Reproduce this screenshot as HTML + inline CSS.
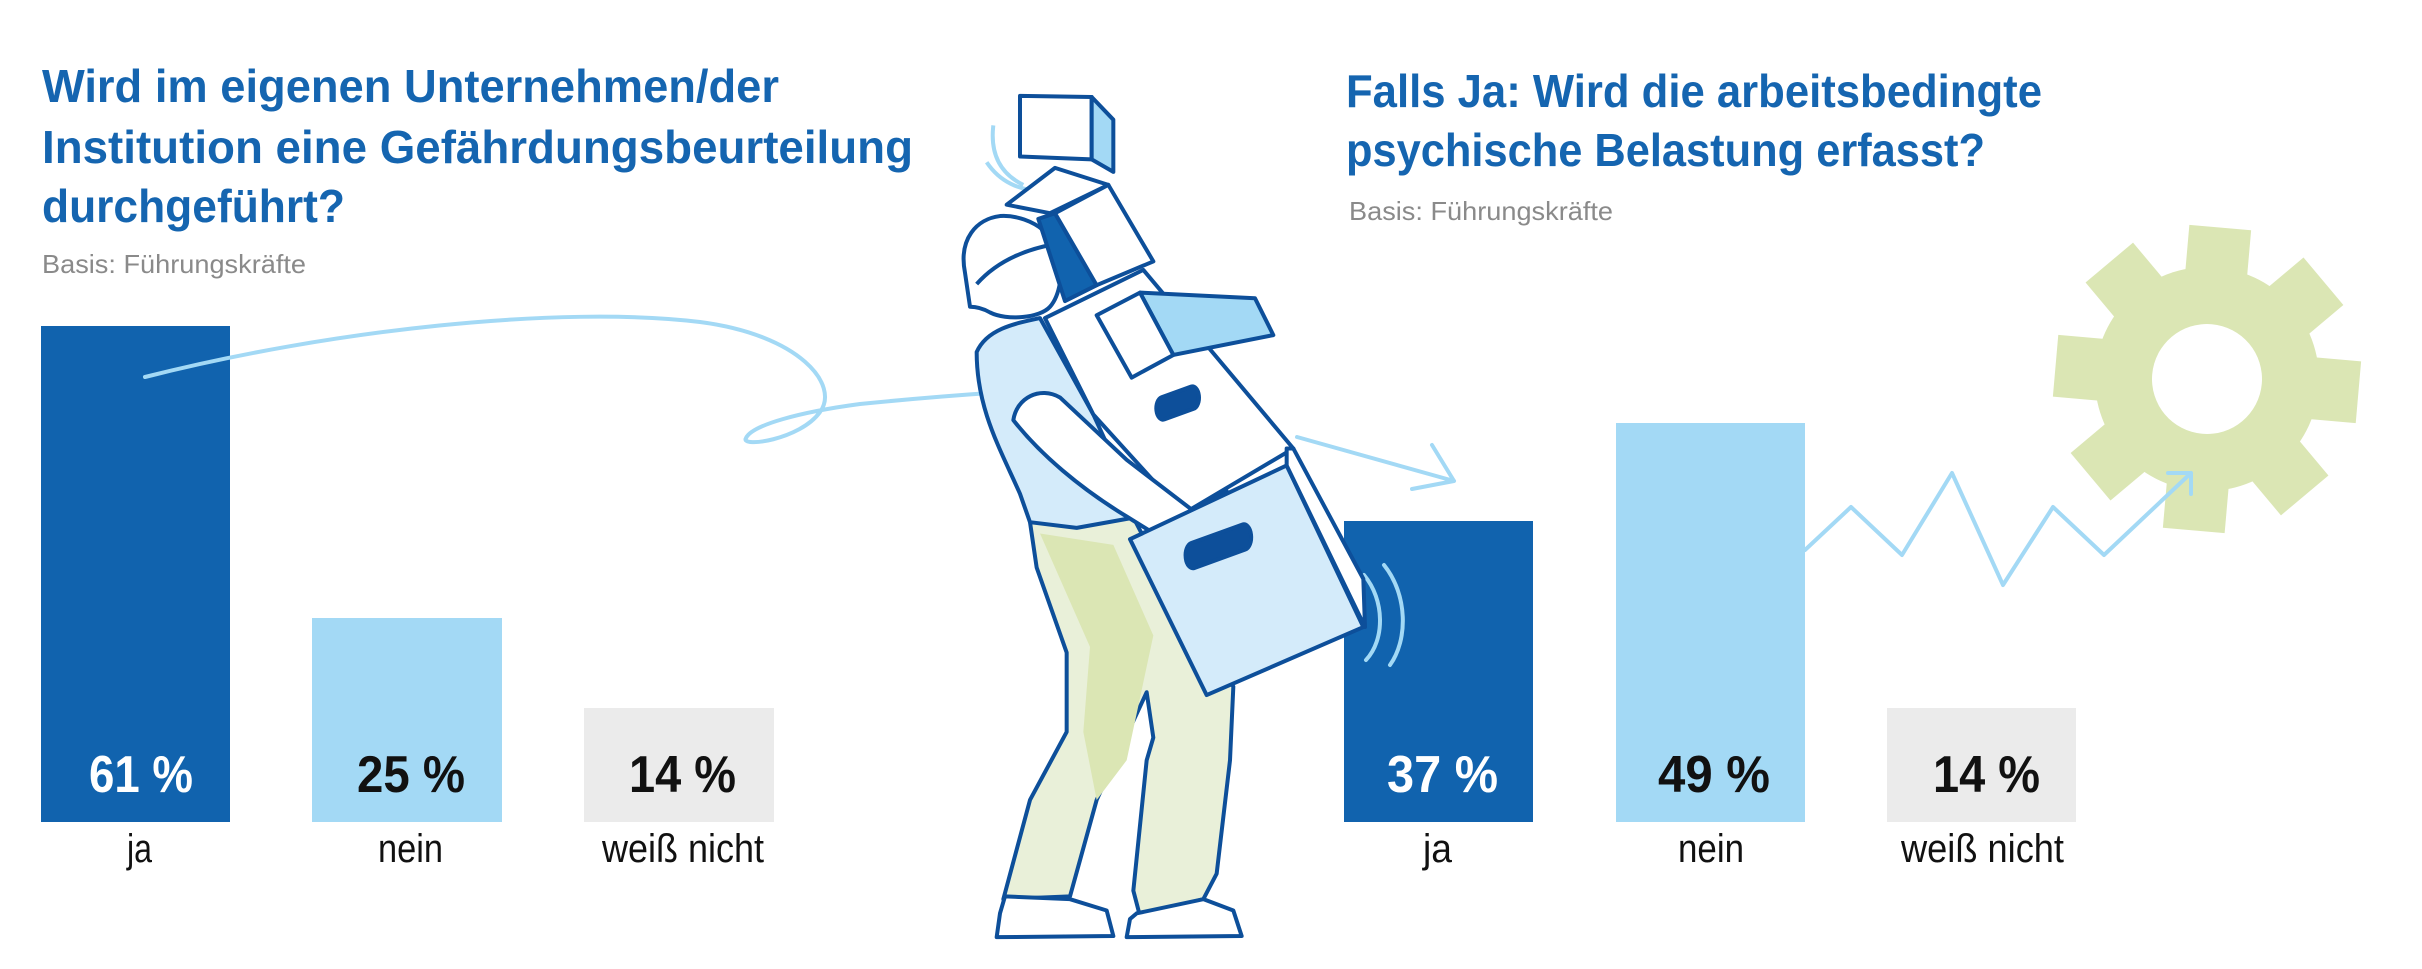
<!DOCTYPE html>
<html><head><meta charset="utf-8"><style>
html,body{margin:0;padding:0;background:#fff;}
svg{display:block;}
.t{font-family:"Liberation Sans",sans-serif;font-weight:bold;fill:#1565b0;font-size:46px;}
.b{font-family:"Liberation Sans",sans-serif;fill:#8a8a8a;font-size:26px;}
.p{font-family:"Liberation Sans",sans-serif;font-weight:bold;font-size:52px;}
.l{font-family:"Liberation Sans",sans-serif;font-size:40px;fill:#111;}
</style></head><body>
<svg width="2422" height="969" viewBox="0 0 2422 969" xmlns="http://www.w3.org/2000/svg">
<!-- titles -->
<text class="t" x="42" y="102" textLength="737" lengthAdjust="spacingAndGlyphs">Wird im eigenen Unternehmen/der</text>
<text class="t" x="42" y="163" textLength="871" lengthAdjust="spacingAndGlyphs">Institution eine Gefährdungsbeurteilung</text>
<text class="t" x="42" y="222" textLength="303" lengthAdjust="spacingAndGlyphs">durchgeführt?</text>
<text class="b" x="42" y="273" textLength="264" lengthAdjust="spacingAndGlyphs">Basis: Führungskräfte</text>
<text class="t" x="1346" y="107" textLength="696" lengthAdjust="spacingAndGlyphs">Falls Ja: Wird die arbeitsbedingte</text>
<text class="t" x="1346" y="166" textLength="639" lengthAdjust="spacingAndGlyphs">psychische Belastung erfasst?</text>
<text class="b" x="1349" y="220" textLength="264" lengthAdjust="spacingAndGlyphs">Basis: Führungskräfte</text>

<!-- gear -->
<g transform="translate(2207,379) rotate(5)" fill="#dbe6b4">
<circle r="112"/>
<g><rect x="-31" y="-152" width="62" height="60"/></g>
<g transform="rotate(45)"><rect x="-31" y="-152" width="62" height="60"/></g>
<g transform="rotate(90)"><rect x="-31" y="-152" width="62" height="60"/></g>
<g transform="rotate(135)"><rect x="-31" y="-152" width="62" height="60"/></g>
<g transform="rotate(180)"><rect x="-31" y="-152" width="62" height="60"/></g>
<g transform="rotate(225)"><rect x="-31" y="-152" width="62" height="60"/></g>
<g transform="rotate(270)"><rect x="-31" y="-152" width="62" height="60"/></g>
<g transform="rotate(315)"><rect x="-31" y="-152" width="62" height="60"/></g>
<circle r="55" fill="#fff"/>
</g>

<!-- bars left -->
<rect x="41" y="326" width="189" height="496" fill="#1163ae"/>
<rect x="312" y="618" width="190" height="204" fill="#a3d9f5"/>
<rect x="584" y="708" width="190" height="114" fill="#ebebeb"/>
<!-- bars right -->
<rect x="1344" y="521" width="189" height="301" fill="#1163ae"/>
<rect x="1616" y="423" width="189" height="399" fill="#a3d9f5"/>
<rect x="1887" y="708" width="189" height="114" fill="#ebebeb"/>

<!-- lines -->
<g fill="none" stroke="#a3d9f5" stroke-width="4" stroke-linecap="round" stroke-linejoin="round">
<path d="M145,377 C330,330 560,305 700,322 C800,335 840,385 820,412 C800,440 740,448 746,438 C752,425 800,412 860,404 C920,398 960,395 990,393"/>
<path d="M1297,437 L1454,481 M1432,445 L1454,481 L1412,489"/>
<path d="M1805,550 L1851,507 L1902,555 L1952,473 L2003,585 L2053,507 L2104,555 L2191,473 M2168,473 L2191,473 L2191,494"/>
<path d="M1364,575 C1385,600 1385,640 1366,660 M1384,565 C1408,595 1408,640 1390,665"/>
</g>

<!-- figure -->
<g transform="translate(940,80) scale(0.33333,0.5669)" stroke="#0d4f9a" stroke-width="4" stroke-linejoin="round" vector-effect="non-scaling-stroke">
<g stroke-width="4">
<path vector-effect="non-scaling-stroke" fill="none" stroke="#a3d9f5" d="M160,80 C150,130 180,165 250,185 M140,145 C180,180 240,195 300,195"/>
<polygon vector-effect="non-scaling-stroke" fill="#fff" points="240,28 455,30 455,140 240,135"/>
<polygon vector-effect="non-scaling-stroke" fill="#a3d9f5" points="455,30 520,70 520,162 455,140"/>
<!-- pants -->
<polygon vector-effect="non-scaling-stroke" fill="#e9f0d9" points="270,780 570,760 640,840 880,1070 870,1200 830,1400 790,1445 600,1475 580,1430 620,1200 640,1160 620,1080 470,1270 390,1440 190,1445 270,1270 380,1150 380,1010 290,860"/>
<polygon vector-effect="non-scaling-stroke" fill="#dbe6b4" stroke="none" points="300,800 520,820 640,980 560,1200 470,1270 430,1150 450,1000"/>
<!-- shoes -->
<polygon vector-effect="non-scaling-stroke" fill="#fff" points="195,1440 390,1445 500,1465 520,1510 170,1512 180,1470"/>
<polygon vector-effect="non-scaling-stroke" fill="#fff" points="590,1470 790,1445 880,1465 905,1510 560,1512 570,1480"/>
<!-- shirt -->
<path vector-effect="non-scaling-stroke" fill="#d4ebfa" d="M110,480 C140,440 220,430 300,420 L460,590 L600,770 L410,790 L270,780 L240,730 C180,650 110,580 110,480 Z"/>
<!-- head -->
<path vector-effect="non-scaling-stroke" fill="#fff" d="M75,340 C55,280 110,245 180,240 C230,238 280,250 310,265 L360,300 C370,340 360,380 330,400 C300,420 200,425 150,410 C120,400 95,400 90,400 Z"/>
<path vector-effect="non-scaling-stroke" fill="#fff" d="M110,360 C170,320 250,300 340,290"/>
<!-- boxes stack -->
<polygon vector-effect="non-scaling-stroke" fill="#fff" points="200,220 345,155 505,185 330,235"/>
<polygon vector-effect="non-scaling-stroke" fill="#1163ae" points="295,245 345,235 470,362 375,390"/>
<polygon vector-effect="non-scaling-stroke" fill="#fff" points="345,235 505,185 640,320 470,362"/>
<polygon vector-effect="non-scaling-stroke" fill="#fff" points="315,420 610,335 1060,650 730,765 460,590"/>
<rect vector-effect="non-scaling-stroke" x="648" y="550" width="130" height="40" rx="20" fill="#0d4f9a" transform="rotate(-12 712 570)"/>
<polygon vector-effect="non-scaling-stroke" fill="#a3d9f5" points="600,375 945,385 1000,450 700,485"/>
<polygon vector-effect="non-scaling-stroke" fill="#fff" points="470,415 600,375 700,485 575,525"/>
<!-- arm -->
<path vector-effect="non-scaling-stroke" fill="#fff" d="M220,600 C230,560 300,540 360,560 L560,670 L760,760 L860,725 L850,770 L920,790 L910,830 L780,850 L560,770 C420,720 300,660 220,600 Z"/>
<polygon vector-effect="non-scaling-stroke" fill="#d4ebfa" points="570,810 1040,680 1270,965 800,1085"/>
<polygon vector-effect="non-scaling-stroke" fill="#fff" points="1040,650 1060,650 1270,880 1275,965 1040,680"/>
<rect vector-effect="non-scaling-stroke" x="735" y="800" width="200" height="45" rx="22" fill="#0d4f9a" transform="rotate(-12 835 822)"/>
</g>
</g>

<!-- values -->
<text class="p" fill="#fff" x="89" y="792" textLength="104" lengthAdjust="spacingAndGlyphs">61 %</text>
<text class="p" fill="#111" x="357" y="792" textLength="108" lengthAdjust="spacingAndGlyphs">25 %</text>
<text class="p" fill="#111" x="629" y="792" textLength="107" lengthAdjust="spacingAndGlyphs">14 %</text>
<text class="p" fill="#fff" x="1387" y="792" textLength="111" lengthAdjust="spacingAndGlyphs">37 %</text>
<text class="p" fill="#111" x="1658" y="792" textLength="112" lengthAdjust="spacingAndGlyphs">49 %</text>
<text class="p" fill="#111" x="1933" y="792" textLength="107" lengthAdjust="spacingAndGlyphs">14 %</text>
<!-- labels -->
<text class="l" x="127" y="862" textLength="25" lengthAdjust="spacingAndGlyphs">ja</text>
<text class="l" x="378" y="862" textLength="65" lengthAdjust="spacingAndGlyphs">nein</text>
<text class="l" x="602" y="862" textLength="162" lengthAdjust="spacingAndGlyphs">weiß nicht</text>
<text class="l" x="1423" y="862" textLength="29" lengthAdjust="spacingAndGlyphs">ja</text>
<text class="l" x="1678" y="862" textLength="66" lengthAdjust="spacingAndGlyphs">nein</text>
<text class="l" x="1901" y="862" textLength="163" lengthAdjust="spacingAndGlyphs">weiß nicht</text>
</svg>
</body></html>
